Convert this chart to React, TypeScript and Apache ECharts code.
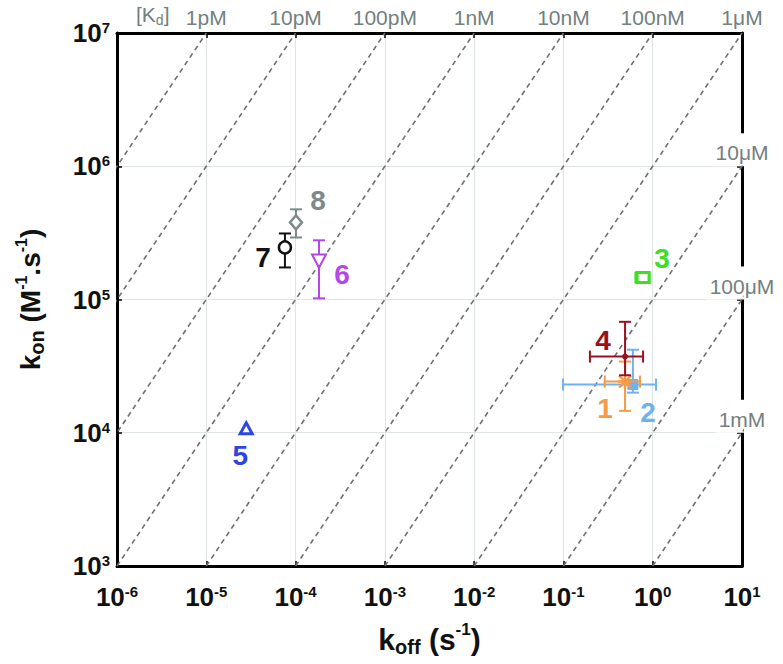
import React, { useEffect, useRef } from "react";
import * as echarts from "echarts";

// ---- data ----
const pointNames = ["1", "2", "3", "4", "5", "6", "7", "8"];
const koff = [0.49, 0.6, 0.78, 0.49, 2.8e-5, 1.83e-4, 7.6e-5, 1.01e-4];
const kon = [2.42e4, 2.3e4, 1.46e5, 3.73e4, 1.07e4, 1.96e5, 2.46e5, 3.79e5];
const koffLow = [0.29, 0.099, 0.64, 0.198, 2.8e-5, 1.83e-4, 7.6e-5, 1.01e-4];
const koffHigh = [0.72, 1.09, 0.92, 0.78, 2.8e-5, 1.83e-4, 7.6e-5, 1.01e-4];
const konLow = [1.46e4, 2.0e4, 1.46e5, 2.7e4, 1.07e4, 1.02e5, 1.74e5, 2.92e5];
const konHigh = [3.42e4, 4.2e4, 1.46e5, 6.8e4, 1.07e4, 2.78e5, 3.13e5, 4.75e5];

// dissociation constants (M) of the iso-Kd dashed lines
const kdLines = [1e-12, 1e-11, 1e-10, 1e-9, 1e-8, 1e-7, 1e-6, 1e-5, 1e-4, 1e-3];
// top axis labels (Kd where kon = 1e7) keyed by log10(koff)
const topKdLabels: Record<string, string> = {
  "-5": "1pM",
  "-4": "10pM",
  "-3": "100pM",
  "-2": "1nM",
  "-1": "10nM",
  "0": "100nM",
  "1": "1\u03bcM",
};
// right axis labels (Kd where koff = 10) keyed by log10(kon)
const rightKdLabels: Record<string, string> = {
  "6": "10\u03bcM",
  "5": "100\u03bcM",
  "4": "1mM",
};

// ---- styles ----
const FONT = '"Liberation Sans Narrow", "Liberation Sans", Arial, sans-serif';
const colors = ["#F59B45", "#6FB2F0", "#3DE021", "#9B1020", "#2F45E0", "#B546E8", "#111111", "#7E8A8A"];
const markers = ["asterisk", "filledSquare", "square", "dot", "triUp", "triDown", "circle", "diamond"];
const labelOffsets = [
  [-20, 27],
  [15, 28],
  [19, -19],
  [-22, -16],
  [-6, 27],
  [23, 14],
  [-22, 10],
  [22, -22],
];
const drawOrder = [1, 0, 3, 2, 4, 5, 6, 7];
const GREY = "#738080";

const powRich = {
  b: { fontSize: 26, fontWeight: "bold", fontFamily: FONT, color: "#111", lineHeight: 26 },
  s: { fontSize: 15, fontWeight: "bold", fontFamily: FONT, color: "#111", lineHeight: 12, verticalAlign: "top" },
};

function powLabel(v: number) {
  const e = Math.round(Math.log10(v));
  return `{b|10}{s|${e}}`;
}

export default function App() {
  const ref = useRef<HTMLDivElement>(null);
  useEffect(() => {
    if (!ref.current) return;
    const chart = echarts.init(ref.current, undefined, { renderer: "svg" });

    const lineSeries = kdLines.map((kd) => ({
      type: "line",
      xAxisIndex: 0,
      yAxisIndex: 0,
      data: [
        [kd * 1e3, 1e3],
        [kd * 1e7, 1e7],
      ],
      symbol: "none",
      silent: true,
      clip: true,
      lineStyle: { color: "#707070", width: 1.6, type: [5, 4] },
      z: 2,
    }));

    const rows = drawOrder.map((i) => [koff[i], kon[i], koffLow[i], koffHigh[i], konLow[i], konHigh[i], i]);

    const renderItem = (params: any, api: any) => {
      const i = api.value(6);
      const x = api.value(0);
      const y = api.value(1);
      const p = api.coord([x, y]);
      const c = colors[i];
      const lw = 2;
      const cap = 6;
      const children: any[] = [];
      const seg = (x1: number, y1: number, x2: number, y2: number, w = lw) =>
        children.push({
          type: "line",
          shape: { x1, y1, x2, y2 },
          style: { stroke: c, lineWidth: w },
        });
      const xl = api.value(2);
      const xh = api.value(3);
      if (xl !== xh) {
        const a = api.coord([xl, y]);
        const b = api.coord([xh, y]);
        seg(a[0], a[1], b[0], b[1]);
        seg(a[0], a[1] - cap, a[0], a[1] + cap);
        seg(b[0], b[1] - cap, b[0], b[1] + cap);
      }
      const yl = api.value(4);
      const yh = api.value(5);
      if (yl !== yh) {
        const a = api.coord([x, yl]);
        const b = api.coord([x, yh]);
        seg(a[0], a[1], b[0], b[1]);
        seg(a[0] - cap, a[1], a[0] + cap, a[1]);
        seg(b[0] - cap, b[1], b[0] + cap, b[1]);
      }
      const [cx, cy] = p;
      const m = markers[i];
      if (m === "asterisk") {
        seg(cx - 6, cy - 6, cx + 6, cy + 6, 2.5);
        seg(cx - 6, cy + 6, cx + 6, cy - 6, 2.5);
        seg(cx - 7, cy, cx + 7, cy, 2.5);
        seg(cx, cy - 7, cx, cy + 7, 2.5);
      } else if (m === "filledSquare") {
        children.push({
          type: "rect",
          shape: { x: cx - 5, y: cy - 5, width: 10, height: 10 },
          style: { fill: c, stroke: c, lineWidth: 1 },
        });
      } else if (m === "square") {
        children.push({
          type: "rect",
          shape: { x: cx - 6, y: cy - 5, width: 12, height: 10 },
          style: { fill: "#fff", stroke: c, lineWidth: 3 },
        });
      } else if (m === "dot") {
        children.push({ type: "circle", shape: { cx, cy, r: 3 }, style: { fill: c } });
      } else if (m === "triUp") {
        children.push({
          type: "polygon",
          shape: { points: [[cx, cy - 6], [cx + 6, cy + 5], [cx - 6, cy + 5]] },
          style: { fill: "#fff", stroke: c, lineWidth: 3 },
        });
      } else if (m === "triDown") {
        children.push({
          type: "polygon",
          shape: { points: [[cx - 7, cy - 6], [cx + 7, cy - 6], [cx, cy + 7]] },
          style: { fill: "#fff", stroke: c, lineWidth: 2 },
        });
      } else if (m === "circle") {
        children.push({ type: "circle", shape: { cx, cy, r: 6 }, style: { fill: "#fff", stroke: c, lineWidth: 2.5 } });
      } else if (m === "diamond") {
        children.push({
          type: "polygon",
          shape: { points: [[cx, cy - 7], [cx + 6, cy], [cx, cy + 7], [cx - 6, cy]] },
          style: { fill: "#fff", stroke: c, lineWidth: 2.5 },
        });
      }
      const off = labelOffsets[i];
      children.push({
        type: "text",
        x: cx + off[0],
        y: cy + off[1],
        style: {
          text: pointNames[i],
          fill: c,
          fontSize: 28,
          fontWeight: "bold",
          fontFamily: FONT,
          align: "center",
          verticalAlign: "middle",
        },
      });
      return { type: "group", children };
    };

    const axisLineStyle = { lineStyle: { color: "#000", width: 3 } };
    const tickStyle = { show: true, inside: true, length: 5, lineStyle: { color: "#000", width: 1.5 } };

    const option: any = {
      animation: false,
      backgroundColor: "#fff",
      textStyle: { fontFamily: FONT },
      grid: { left: 117, right: 41, top: 33, bottom: 98, containLabel: false },
      xAxis: [
        {
          type: "log",
          logBase: 10,
          min: 1e-6,
          max: 10,
          splitNumber: 7,
          position: "bottom",
          axisLine: { show: true, ...axisLineStyle },
          axisTick: tickStyle,
          minorTick: { show: false },
          splitLine: { show: true, lineStyle: { color: "#dfe5e5", width: 1 } },
          axisLabel: { formatter: powLabel, rich: powRich, margin: 18 },
          name: "{b|k}{sub|off}{b| (s}{sup|-1}{b|)}",
          nameLocation: "middle",
          nameGap: 55,
          nameTextStyle: {
            rich: {
              b: { fontSize: 30, fontWeight: "bold", fontFamily: FONT, color: "#111", lineHeight: 36 },
              sub: { fontSize: 20, fontWeight: "bold", fontFamily: FONT, color: "#111", lineHeight: 14, verticalAlign: "bottom" },
              sup: { fontSize: 17, fontWeight: "bold", fontFamily: FONT, color: "#111", lineHeight: 14, verticalAlign: "top" },
            },
          },
        },
        {
          type: "log",
          logBase: 10,
          min: 1e-6,
          max: 10,
          splitNumber: 7,
          position: "top",
          axisLine: { show: true, ...axisLineStyle },
          axisTick: tickStyle,
          splitLine: { show: false },
          axisLabel: {
            margin: 5,
            formatter: (v: number) => {
              const t = topKdLabels[String(Math.round(Math.log10(v)))];
              return t ? `{g|${t}}` : "";
            },
            rich: { g: { fontSize: 21, color: GREY, fontFamily: FONT } },
          },
        },
      ],
      yAxis: [
        {
          type: "log",
          logBase: 10,
          min: 1e3,
          max: 1e7,
          splitNumber: 4,
          position: "left",
          axisLine: { show: true, ...axisLineStyle },
          axisTick: tickStyle,
          minorTick: { show: false },
          splitLine: { show: true, lineStyle: { color: "#dfe5e5", width: 1 } },
          axisLabel: { formatter: powLabel, rich: powRich, margin: 7 },
          name: "{b|k}{sub|on}{b| (M}{sup|-1}{b|.s}{sup|-1}{b|)}",
          nameLocation: "middle",
          nameGap: 70,
          nameRotate: 90,
          nameTextStyle: {
            rich: {
              b: { fontSize: 28, fontWeight: "bold", fontFamily: FONT, color: "#111", lineHeight: 34 },
              sub: { fontSize: 20, fontWeight: "bold", fontFamily: FONT, color: "#111", lineHeight: 14, verticalAlign: "bottom" },
              sup: { fontSize: 16, fontWeight: "bold", fontFamily: FONT, color: "#111", lineHeight: 14, verticalAlign: "top" },
            },
          },
        },
        {
          type: "log",
          logBase: 10,
          min: 1e3,
          max: 1e7,
          splitNumber: 4,
          position: "right",
          axisLine: { show: true, ...axisLineStyle },
          axisTick: { ...tickStyle },
          splitLine: { show: false },
          axisLabel: {
            margin: 0,
            align: "center",
            verticalAlign: "bottom",
            formatter: (v: number) => {
              const t = rightKdLabels[String(Math.round(Math.log10(v)))];
              return t ? `{g|${t}}` : "";
            },
            rich: {
              g: {
                fontSize: 21,
                color: GREY,
                fontFamily: FONT,
                backgroundColor: "#fff",
                padding: [9, 3, 3, 3],
              },
            },
          },
        },
      ],
      graphic: [
        {
          type: "text",
          left: 136,
          top: 4,
          z: 10,
          style: {
            text: "{a|[K}{s|d}{a|]}",
            rich: {
              a: { fontSize: 21, fill: GREY, fontFamily: FONT, lineHeight: 24 },
              s: { fontSize: 14, fill: GREY, fontFamily: FONT, lineHeight: 14, verticalAlign: "bottom" },
            },
          },
        },
      ],
      series: [
        ...lineSeries,
        {
          type: "custom",
          xAxisIndex: 0,
          yAxisIndex: 0,
          renderItem,
          encode: { x: 0, y: 1 },
          data: rows,
          clip: false,
          z: 5,
          silent: true,
        },
      ],
    };

    chart.setOption(option);
    return () => chart.dispose();
  }, []);

  return (
    <div
      ref={ref}
      style={{ position: "absolute", left: 0, top: 0, width: 783, height: 664, background: "#fff" }}
    />
  );
}
